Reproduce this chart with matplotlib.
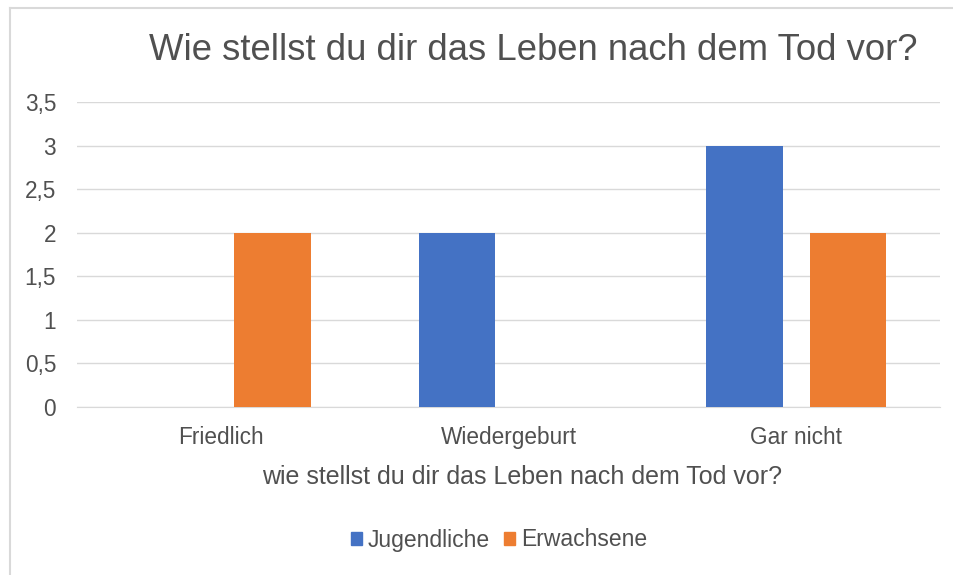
import matplotlib.pyplot as plt
import numpy as np
from matplotlib.lines import Line2D

plt.rcParams['font.family'] = ['Liberation Sans', 'DejaVu Sans']

# data
categories = ['Friedlich', 'Wiedergeburt', 'Gar nicht']
jugendliche = [0, 2, 3]
erwachsene = [2, 0, 2]
yticks = [0, 0.5, 1, 1.5, 2, 2.5, 3, 3.5]
ytick_labels = ['0', '0,5', '1', '1,5', '2', '2,5', '3', '3,5']

blue = '#4472C4'
orange = '#ED7D31'
grey_text = '#505050'

fig = plt.figure(figsize=(9.54, 5.75), dpi=100)
ax = fig.add_axes([77 / 954, 1 - 407 / 575, 863 / 954, 305 / 575])

x = np.arange(len(categories))
w = 0.265
off = 0.18
ax.bar(x - off, jugendliche, w, color=blue, label='Jugendliche', zorder=3)
ax.bar(x + off, erwachsene, w, color=orange, label='Erwachsene', zorder=3)

ax.set_xlim(-0.5, 2.5)
ax.set_ylim(0, 3.5)
ax.set_yticks(yticks)
ax.set_yticklabels(ytick_labels)
ax.set_xticks(x)
ax.set_xticklabels(categories)
ax.tick_params(axis='both', length=0, labelsize=16.3, colors=grey_text)
ax.tick_params(axis='y', pad=15)
ax.tick_params(axis='x', pad=14)
ax.grid(axis='y', color='#D9D9D9', linewidth=1, zorder=0)
for s in ['top', 'right', 'left']:
    ax.spines[s].set_visible(False)
ax.spines['bottom'].set_color('#D9D9D9')

ax.set_xlabel('wie stellst du dir das Leben nach dem Tod vor?', fontsize=18,
              color=grey_text)
ax.xaxis.set_label_coords((522 - 77) / 863, -0.19)

fig.text(533 / 954, 1 - 50 / 575, 'Wie stellst du dir das Leben nach dem Tod vor?',
         ha='center', va='center', fontsize=26.3, color=grey_text)

handles = [plt.Rectangle((0, 0), 1, 1, color=blue), plt.Rectangle((0, 0), 1, 1, color=orange)]
fig.legend(handles, ['Jugendliche', 'Erwachsene'], loc='center', bbox_to_anchor=(499 / 954, 1 - 540 / 575),
           ncol=2, frameon=False, fontsize=16.5, handlelength=0.5, handleheight=0.5,
           handletextpad=0.25, columnspacing=0.6, labelcolor=grey_text)

# chart border (left and top edges visible)
fig.add_artist(Line2D([10 / 954, 10 / 954], [0, 1 - 8 / 575], color='#D9D9D9', lw=1.5))
fig.add_artist(Line2D([10 / 954, 1], [1 - 8 / 575, 1 - 8 / 575], color='#D9D9D9', lw=1.5))

fig.savefig('out.png', dpi=100)
